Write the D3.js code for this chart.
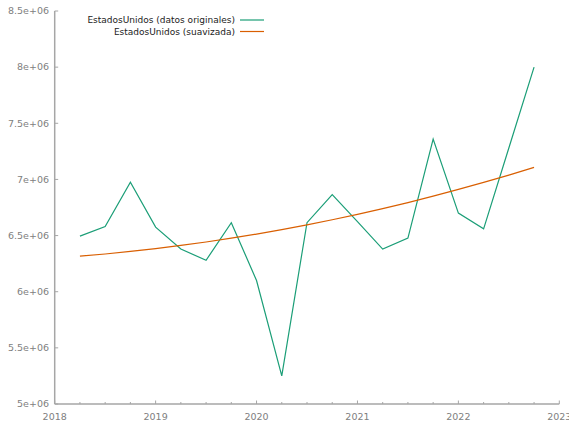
<!DOCTYPE html>
<html>
<head>
<meta charset="utf-8">
<script src="https://cdn.jsdelivr.net/npm/d3@7"></script>
<style>
  html, body { margin: 0; padding: 0; background: #fff; }
  svg { display: block; font-family: "DejaVu Sans", Verdana, sans-serif; }
</style>
</head>
<body>
<svg id="chart" width="569" height="425"></svg>
<script>
// Quarterly observations (fractional years) and values
const quarters = [2018.25, 2018.5, 2018.75, 2019.0, 2019.25, 2019.5, 2019.75,
                  2020.0, 2020.25, 2020.5, 2020.75, 2021.0, 2021.25, 2021.5,
                  2021.75, 2022.0, 2022.25, 2022.5, 2022.75];
const original = [6.495e6, 6.58e6, 6.975e6, 6.575e6, 6.38e6, 6.28e6, 6.615e6,
                  6.10e6, 5.25e6, 6.615e6, 6.865e6, 6.625e6, 6.38e6, 6.477e6,
                  7.36e6, 6.70e6, 6.56e6, 7.28e6, 8.00e6];
const smoothed = [6.317e6, 6.336e6, 6.359e6, 6.384e6, 6.412e6, 6.443e6, 6.477e6,
                  6.513e6, 6.553e6, 6.595e6, 6.641e6, 6.689e6, 6.740e6, 6.794e6,
                  6.851e6, 6.911e6, 6.974e6, 7.039e6, 7.108e6];
const seriesNames = ["EstadosUnidos (datos originales)", "EstadosUnidos (suavizada)"];
const seriesColors = ["#1b9e77", "#d95f02"];
const xTicks = [2018, 2019, 2020, 2021, 2022, 2023];
const yTicks = [5e6, 5.5e6, 6e6, 6.5e6, 7e6, 7.5e6, 8e6, 8.5e6];
const yTickLabels = ["5e+06", "5.5e+06", "6e+06", "6.5e+06", "7e+06", "7.5e+06", "8e+06", "8.5e+06"];

const svg = d3.select("#chart");
const axisColor = "#a6a6a6";
const textColor = "#808080";

const x = d3.scaleLinear().domain([2018, 2023]).range([54.7, 559.3]);
const y = d3.scaleLinear().domain([5e6, 8.5e6]).range([404, 11]);

// Minor ticks every quarter on the x axis
const xMinor = d3.range(2018, 2023.001, 0.25).filter(v => Math.abs(v - Math.round(v)) > 1e-6);

// Bottom axis: inward ticks
const gx = svg.append("g");
gx.append("line")
  .attr("x1", x(2018)).attr("x2", x(2023))
  .attr("y1", y(5e6)).attr("y2", y(5e6))
  .attr("stroke", axisColor).attr("stroke-width", 1.5);
gx.selectAll("line.major").data(xTicks).join("line")
  .attr("class", "major")
  .attr("x1", d => x(d)).attr("x2", d => x(d))
  .attr("y1", y(5e6)).attr("y2", y(5e6) - 3.5)
  .attr("stroke", axisColor).attr("stroke-width", 1);
gx.selectAll("line.minor").data(xMinor).join("line")
  .attr("class", "minor")
  .attr("x1", d => x(d)).attr("x2", d => x(d))
  .attr("y1", y(5e6)).attr("y2", y(5e6) - 2)
  .attr("stroke", axisColor).attr("stroke-width", 1);
gx.selectAll("text").data(xTicks).join("text")
  .attr("x", d => x(d)).attr("y", 420)
  .attr("text-anchor", "middle")
  .attr("font-size", 9.5).attr("fill", textColor)
  .text(d => d3.format("d")(d));

// Left axis: inward ticks
const gy = svg.append("g");
gy.append("line")
  .attr("x1", x(2018)).attr("x2", x(2018))
  .attr("y1", y(5e6)).attr("y2", y(8.5e6))
  .attr("stroke", axisColor).attr("stroke-width", 1.5);
gy.selectAll("line.tick").data(yTicks).join("line")
  .attr("class", "tick")
  .attr("x1", x(2018)).attr("x2", x(2018) + 3.5)
  .attr("y1", d => y(d)).attr("y2", d => y(d))
  .attr("stroke", axisColor).attr("stroke-width", 1);
gy.selectAll("text").data(yTicks).join("text")
  .attr("x", 49).attr("y", d => y(d))
  .attr("dy", "0.35em")
  .attr("text-anchor", "end")
  .attr("font-size", 9.5).attr("fill", textColor)
  .text((d, i) => yTickLabels[i]);

// Series lines
const line = d3.line().x(d => x(d[0])).y(d => y(d[1]));
[original, smoothed].forEach((vals, i) => {
  svg.append("path")
    .datum(quarters.map((q, k) => [q, vals[k]]))
    .attr("fill", "none")
    .attr("stroke", seriesColors[i])
    .attr("stroke-width", 1.2)
    .attr("stroke-linejoin", "miter")
    .attr("d", line);
});

// Legend
const legend = svg.append("g");
seriesNames.forEach((name, i) => {
  const ly = 20 + i * 11.5;
  legend.append("text")
    .attr("x", 235).attr("y", ly).attr("dy", "0.35em")
    .attr("text-anchor", "end")
    .attr("font-size", 9).attr("fill", "#222")
    .text(name);
  legend.append("line")
    .attr("x1", 240).attr("x2", 264)
    .attr("y1", ly).attr("y2", ly)
    .attr("stroke", seriesColors[i]).attr("stroke-width", 1.2);
});
</script>
</body>
</html>
